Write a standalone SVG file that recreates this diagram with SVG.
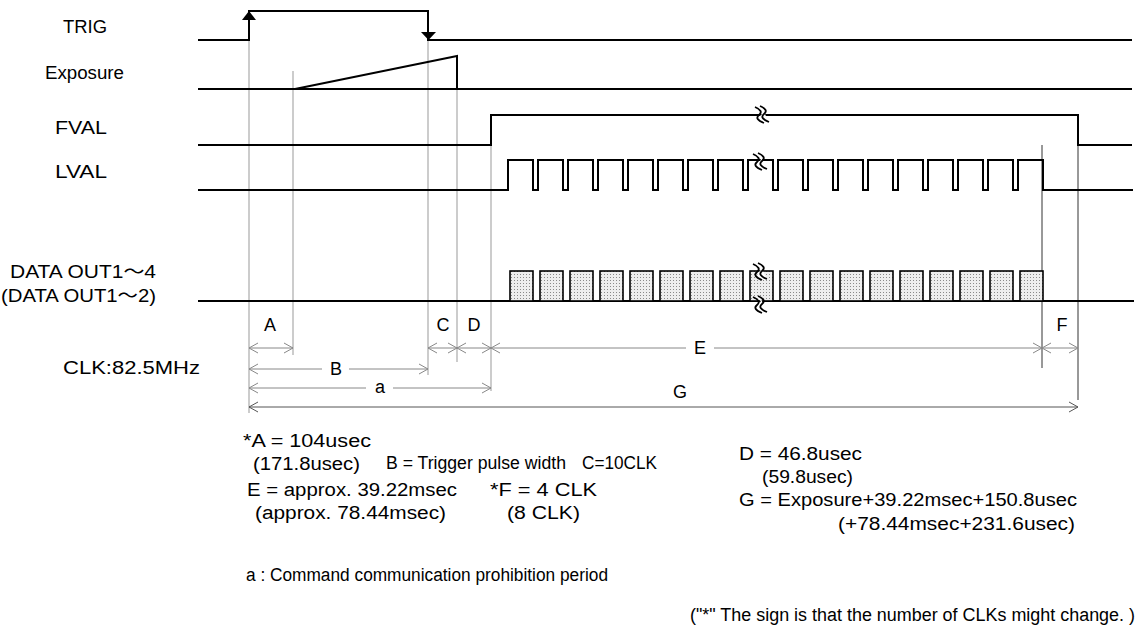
<svg xmlns="http://www.w3.org/2000/svg" xmlns:xlink="http://www.w3.org/1999/xlink" width="1143" height="636" viewBox="0 0 1143 636">
<style>
.sig{fill:none;stroke:#000;stroke-width:2}
.guide{fill:none;stroke:#999;stroke-width:1}
.guide2{fill:none;stroke:#333;stroke-width:1}
.dim{fill:none;stroke:#888;stroke-width:1}
.dimd{fill:none;stroke:#555;stroke-width:1}
.box{fill:url(#dots);stroke:#000;stroke-width:1.6}
.brk{fill:none;stroke:#000;stroke-width:1.8}
text{font-family:"Liberation Sans",Arial,"Noto Sans CJK JP",sans-serif;font-size:18px;fill:#000}
.lbl{text-anchor:middle}
</style>
<defs>
<pattern id="dots" width="3" height="3" patternUnits="userSpaceOnUse">
<rect width="3" height="3" fill="#eeeeee"/>
<rect x="1" y="1" width="1" height="1" fill="#8a8a8a"/>
</pattern>
<marker id="ah" viewBox="-11 -6 12 12" markerWidth="12" markerHeight="12" refX="0" refY="0" orient="auto-start-reverse" markerUnits="userSpaceOnUse">
<path d="M-9,-5 L0,0 L-9,5" fill="none" stroke="#888" stroke-width="1"/>
</marker>
<marker id="ahd" viewBox="-11 -6 12 12" markerWidth="12" markerHeight="12" refX="0" refY="0" orient="auto-start-reverse" markerUnits="userSpaceOnUse">
<path d="M-9,-5 L0,0 L-9,5" fill="none" stroke="#555" stroke-width="1"/>
</marker>
<g id="brk">
<path d="M-3,-8 Q6,-4 1,0 T6,8 L10,7 Q6,3 5,-1 T1,-9 Z" fill="#fff" stroke="none"/>
<path class="brk" d="M-5,-8 Q4,-4 -1,0 T4,8"/>
<path class="brk" d="M0,-9 Q9,-5 4,-1 T9,7"/>
</g>
</defs>

<g id="guides">
<line class="guide" x1="249" y1="14" x2="249" y2="413"/>
<line class="guide" x1="293" y1="71" x2="293" y2="355"/>
<line class="guide" x1="428" y1="40" x2="428" y2="375"/>
<line class="guide" x1="457" y1="56" x2="457" y2="362"/>
<line class="guide" x1="491" y1="145" x2="491" y2="391"/>
<line class="guide2" x1="1042" y1="145" x2="1042" y2="368"/>
<line class="guide2" x1="1078" y1="145" x2="1078" y2="400"/>
</g>

<g id="trig">
<text x="63" y="33" textLength="44" lengthAdjust="spacingAndGlyphs">TRIG</text>
<path class="sig" d="M198,40 H249 V11 H428 V40 H1132"/>
<polygon points="249,11 242,20 256,20" fill="#000"/>
<polygon points="421,32 436,32 428.5,40" fill="#000"/>
</g>

<g id="exposure">
<text x="45" y="79" textLength="79" lengthAdjust="spacingAndGlyphs">Exposure</text>
<path class="sig" d="M198,89 H1132"/>
<path class="sig" d="M295,89 L457,56 V89"/>
</g>

<g id="fval">
<text x="55" y="134" textLength="52" lengthAdjust="spacingAndGlyphs">FVAL</text>
<path class="sig" d="M198,145 H491 V115 H1078 V145 H1132"/>
<use xlink:href="#brk" x="760" y="115"/>
</g>

<g id="lval">
<text x="55" y="178" textLength="52" lengthAdjust="spacingAndGlyphs">LVAL</text>
<path class="sig" d="M198,190 H508 V160 H533 V190 H538 V160 H563 V190 H568 V160 H593 V190 H598 V160 H623 V190 H628 V160 H653 V190 H658 V160 H683 V190 H688 V160 H713 V190 H718 V160 H743 V190 H748 V160 H773 V190 H778 V160 H803 V190 H808 V160 H833 V190 H838 V160 H863 V190 H868 V160 H893 V190 H898 V160 H923 V190 H928 V160 H953 V190 H958 V160 H983 V190 H988 V160 H1013 V190 H1018 V160 H1043 V190 H1133"/>
<use xlink:href="#brk" x="758" y="162"/>
</g>

<g id="data">
<text x="10" y="278" textLength="146" lengthAdjust="spacingAndGlyphs">DATA OUT1～4</text>
<text x="1" y="302" textLength="155" lengthAdjust="spacingAndGlyphs">(DATA OUT1～2)</text>
<path class="sig" d="M198,301 H1134"/>
<rect class="box" x="510" y="271" width="23" height="30"/>
<rect class="box" x="540" y="271" width="23" height="30"/>
<rect class="box" x="570" y="271" width="23" height="30"/>
<rect class="box" x="600" y="271" width="23" height="30"/>
<rect class="box" x="630" y="271" width="23" height="30"/>
<rect class="box" x="660" y="271" width="23" height="30"/>
<rect class="box" x="690" y="271" width="23" height="30"/>
<rect class="box" x="720" y="271" width="23" height="30"/>
<rect class="box" x="750" y="271" width="23" height="30"/>
<rect class="box" x="780" y="271" width="23" height="30"/>
<rect class="box" x="810" y="271" width="23" height="30"/>
<rect class="box" x="840" y="271" width="23" height="30"/>
<rect class="box" x="870" y="271" width="23" height="30"/>
<rect class="box" x="900" y="271" width="23" height="30"/>
<rect class="box" x="930" y="271" width="23" height="30"/>
<rect class="box" x="960" y="271" width="23" height="30"/>
<rect class="box" x="990" y="271" width="23" height="30"/>
<rect class="box" x="1020" y="271" width="23" height="30"/>
<use xlink:href="#brk" x="758" y="272"/>
<use xlink:href="#brk" x="758" y="305"/>
</g>

<g id="connectors">
<line class="dim" x1="249" y1="348" x2="293" y2="348" marker-start="url(#ah)" marker-end="url(#ah)"/>
<line class="dim" x1="428" y1="348" x2="457" y2="348" marker-start="url(#ah)" marker-end="url(#ah)"/>
<line class="dim" x1="457" y1="348" x2="491" y2="348" marker-start="url(#ah)" marker-end="url(#ah)"/>
<line class="dim" x1="491" y1="348" x2="686" y2="348" marker-start="url(#ah)"/>
<line class="dim" x1="714" y1="348" x2="1042" y2="348" marker-end="url(#ah)"/>
<line class="dim" x1="1042" y1="348" x2="1078" y2="348" marker-start="url(#ah)" marker-end="url(#ah)"/>
<line class="dim" x1="249" y1="369" x2="322" y2="369" marker-start="url(#ah)"/>
<line class="dim" x1="349" y1="369" x2="428" y2="369" marker-end="url(#ah)"/>
<line class="dim" x1="249" y1="388" x2="366" y2="388" marker-start="url(#ah)"/>
<line class="dim" x1="393" y1="388" x2="491" y2="388" marker-end="url(#ah)"/>
<line class="dimd" x1="249" y1="407" x2="1078" y2="407" marker-start="url(#ahd)" marker-end="url(#ahd)"/>
</g>

<g id="dimlabels">
<text class="lbl" x="270" y="331">A</text>
<text class="lbl" x="443" y="331">C</text>
<text class="lbl" x="474" y="331">D</text>
<text class="lbl" x="700" y="354">E</text>
<text class="lbl" x="1062" y="331">F</text>
<text class="lbl" x="336" y="375">B</text>
<text class="lbl" x="380" y="393">a</text>
<text class="lbl" x="680" y="398">G</text>
<text x="63" y="374" textLength="137" lengthAdjust="spacingAndGlyphs">CLK:82.5MHz</text>
</g>

<g id="notes">
<text x="243" y="447" textLength="128" lengthAdjust="spacingAndGlyphs">*A = 104usec</text>
<text x="253" y="470" textLength="107" lengthAdjust="spacingAndGlyphs">(171.8usec)</text>
<text x="386" y="469" textLength="180" lengthAdjust="spacingAndGlyphs">B = Trigger pulse width</text>
<text x="582" y="469" textLength="75" lengthAdjust="spacingAndGlyphs">C=10CLK</text>
<text x="739" y="460" textLength="123" lengthAdjust="spacingAndGlyphs">D = 46.8usec</text>
<text x="762" y="483" textLength="91" lengthAdjust="spacingAndGlyphs">(59.8usec)</text>
<text x="247" y="496" textLength="210" lengthAdjust="spacingAndGlyphs">E = approx. 39.22msec</text>
<text x="255" y="519" textLength="191" lengthAdjust="spacingAndGlyphs">(approx. 78.44msec)</text>
<text x="490" y="496" textLength="107" lengthAdjust="spacingAndGlyphs">*F = 4 CLK</text>
<text x="507" y="519" textLength="73" lengthAdjust="spacingAndGlyphs">(8 CLK)</text>
<text x="739" y="506" textLength="338" lengthAdjust="spacingAndGlyphs">G = Exposure+39.22msec+150.8usec</text>
<text x="838" y="530" textLength="237" lengthAdjust="spacingAndGlyphs">(+78.44msec+231.6usec)</text>
<text x="246" y="581" textLength="362" lengthAdjust="spacingAndGlyphs">a : Command communication prohibition period</text>
<text x="690" y="621" textLength="445" lengthAdjust="spacingAndGlyphs">("*" The sign is that the number of CLKs might change. )</text>
</g>
</svg>
